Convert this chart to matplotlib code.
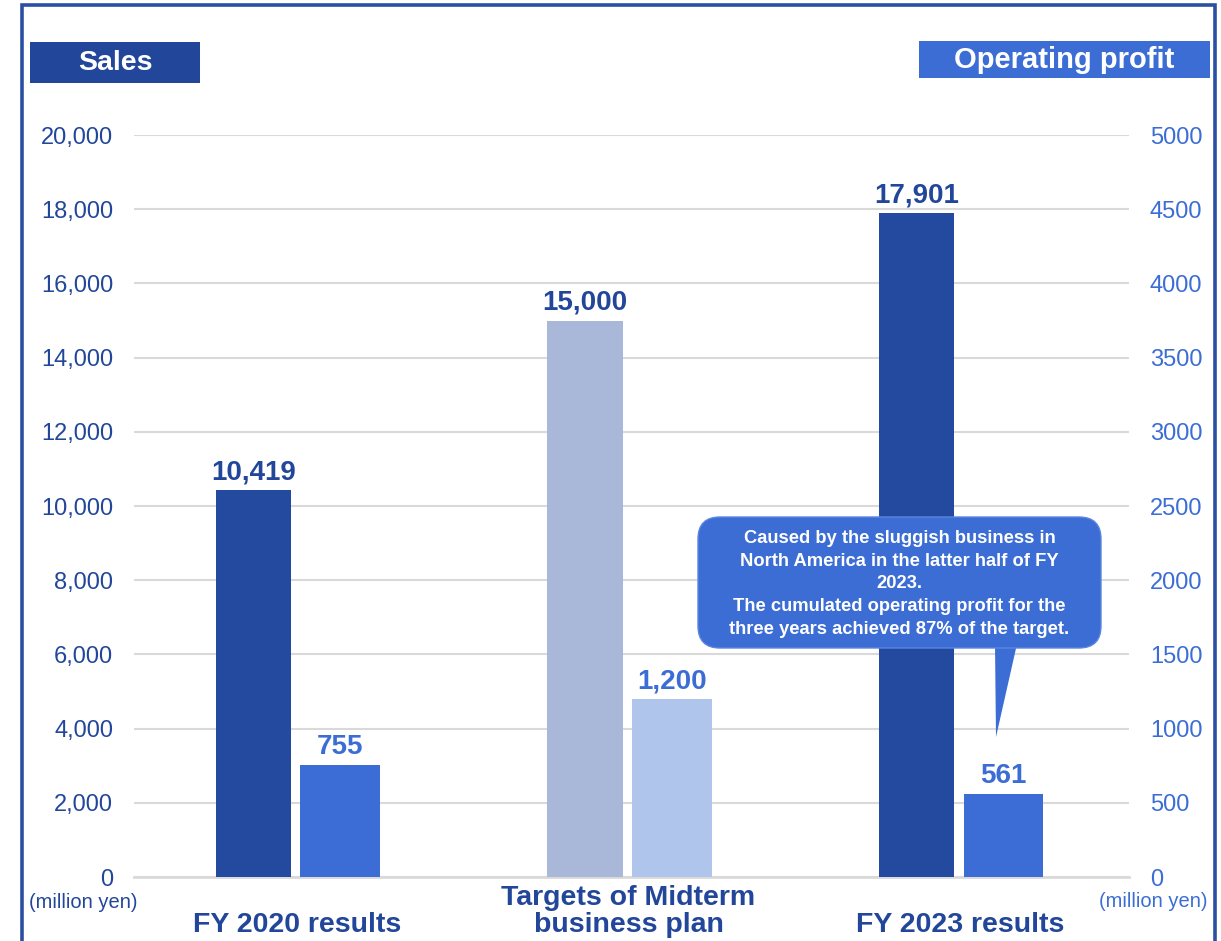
import numpy as np
import matplotlib
matplotlib.use("Agg")
import matplotlib.pyplot as plt
from matplotlib.patches import FancyBboxPatch, Polygon, Rectangle
from matplotlib.ticker import FuncFormatter

plt.rcParams['font.family'] = ['Liberation Sans', 'DejaVu Sans']

# Data
categories = ["FY 2020 results", "Targets of Midterm\nbusiness plan", "FY 2023 results"]
sales = [10419, 15000, 17901]
profit = [755, 1200, 561]
sales_colors = ["#234A9E", "#A9B7D8", "#234A9E"]
profit_colors = ["#3C6DD6", "#B0C5EC", "#3C6DD6"]
left_ticks = np.arange(0, 20001, 2000)
right_ticks = np.arange(0, 5001, 500)
note = ("Caused by the sluggish business in\nNorth America in the latter half of FY\n2023.\n"
        "The cumulated operating profit for the\nthree years achieved 87% of the target.")

dark = "#22479A"
mid = "#3B6DD5"

fig = plt.figure(figsize=(12.21, 9.41), dpi=100)
ax = fig.add_axes([0.1097, 0.068, 0.815, 0.7885])
ax2 = ax.twinx()

x = np.arange(len(categories))
off = 0.131
ax.bar(x - off, sales, width=0.227, color=sales_colors, zorder=3)
ax2.bar(x + off, profit, width=0.24, color=profit_colors, zorder=3)

# value labels
for xi, v in zip(x, sales):
    ax.annotate(f"{v:,}", (xi - off, v), xytext=(0, 3.5), textcoords='offset points',
                ha='center', va='bottom', fontsize=20, fontweight='bold', color=dark)
for xi, v in zip(x, profit):
    ax2.annotate(f"{v:,}", (xi + off, v), xytext=(0, 3.5), textcoords='offset points',
                 ha='center', va='bottom', fontsize=20, fontweight='bold', color=mid)

ax.set_xlim(-0.491, 2.509)
ax.set_ylim(0, 20000)
ax2.set_ylim(0, 5000)
ax.set_yticks(left_ticks)
ax2.set_yticks(right_ticks)
ax.yaxis.set_major_formatter(FuncFormatter(lambda v, p: f"{int(v):,}"))
ax2.yaxis.set_major_formatter(FuncFormatter(lambda v, p: f"{int(v)}"))
ax.tick_params(axis='y', length=0, pad=15, labelsize=17, labelcolor=dark)
ax2.tick_params(axis='y', length=0, pad=15, labelsize=17, labelcolor=mid)
ax.set_xticks([])

ax.set_axisbelow(True)
ax.yaxis.grid(True, color='#D9D9D9', linewidth=1.5)
for a in (ax, ax2):
    for s in a.spines.values():
        s.set_visible(False)
ax.axhline(0, color='#D9D9D9', linewidth=2, clip_on=False, zorder=2)

# category labels
for xi, lab in zip(x, categories):
    ax.text(xi, -0.0741, lab, transform=ax.get_xaxis_transform(), ha='center', va='baseline',
            fontsize=20.5, fontweight='bold', color=dark, linespacing=1.05, multialignment='center')

# unit labels
fig.text(0.068, 0.0404, "(million yen)", ha='center', va='center', fontsize=14.5, color=dark)
fig.text(0.9443, 0.0425, "(million yen)", ha='center', va='center', fontsize=14.5, color=mid)

# header boxes
tr = fig.dpi_scale_trans
fig.patches.append(Rectangle((0.30, 8.58), 1.70, 0.41, transform=tr, facecolor=dark, edgecolor='none'))
fig.text(1.15, 8.785, "Sales", transform=tr, ha='center', va='center', fontsize=20.5,
         fontweight='bold', color='white')
fig.patches.append(Rectangle((9.19, 8.63), 2.91, 0.37, transform=tr, facecolor=mid, edgecolor='none'))
fig.text(10.645, 8.81, "Operating profit", transform=tr, ha='center', va='center', fontsize=21,
         fontweight='bold', color='white')

# callout
fig.patches.append(Polygon([(9.95, 2.97), (10.17, 2.97), (9.96, 2.04)], closed=True,
                           transform=tr, facecolor=mid, edgecolor='none'))
fig.patches.append(FancyBboxPatch((6.98, 2.93), 4.03, 1.31, boxstyle="round,pad=0,rounding_size=0.22",
                                  transform=tr, facecolor=mid, edgecolor='#5A86E0', linewidth=1))
fig.text(8.995, 3.57, note, transform=tr, ha='center', va='center', fontsize=13.2,
         fontweight='bold', color='white', linespacing=1.43, multialignment='center')

# outer border
fig.patches.append(Rectangle((22 / 1221, -0.05), (1215 - 22) / 1221, 1.05 - 5.5 / 941,
                             transform=fig.transFigure, fill=False, edgecolor='#2B4FA3',
                             linewidth=2.6, clip_on=False))

fig.savefig("out.png", dpi=100)
